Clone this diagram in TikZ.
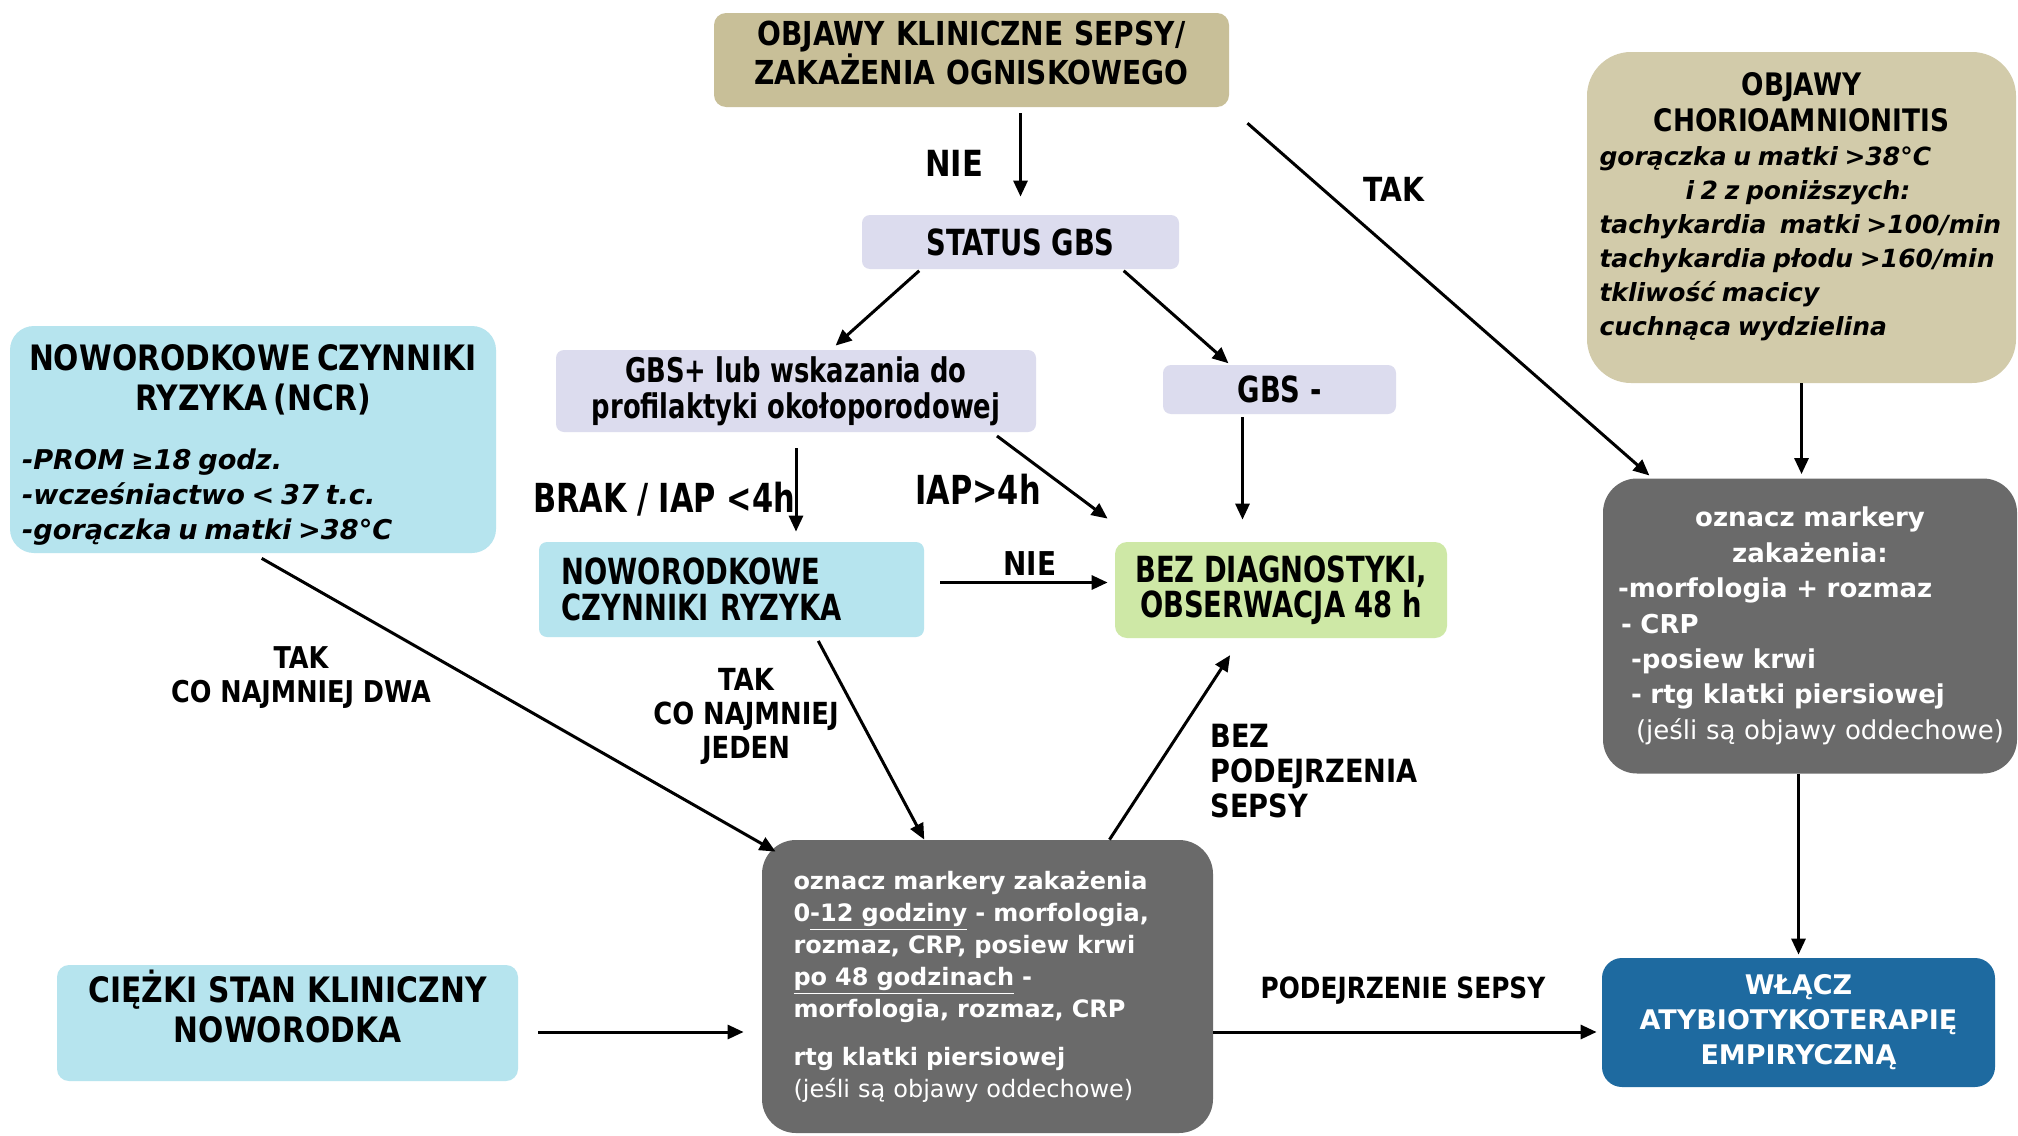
\documentclass[tikz,border=0pt]{standalone}
\usepackage{fontspec}
\setmainfont{DejaVu Sans}
\newfontfamily\tah{DejaVu Sans}[FakeStretch=0.85]
\newfontfamily\tahc{DejaVu Sans}[FakeStretch=0.76]
\usetikzlibrary{arrows.meta,calc}
\definecolor{tanA}{RGB}{200,191,152}
\definecolor{tanB}{RGB}{210,203,170}
\definecolor{lav}{RGB}{220,220,238}
\definecolor{cyanL}{RGB}{182,228,238}
\definecolor{greenL}{RGB}{206,232,166}
\definecolor{greyD}{RGB}{106,106,106}
\definecolor{blueD}{RGB}{30,106,160}
\begin{document}
\begin{tikzpicture}[x=0.5pt,y=-0.5pt,
  box/.style={inner sep=0pt, align=center, text=black},
  conn/.style={-{Triangle[length=8pt,width=7pt]}, line width=1.5pt, black},
  lab/.style={inner sep=0pt, align=center, font=\bfseries\tah\fontsize{#1}{17}\selectfont},
  lab/.default=16]
\fill[white] (0,0) rectangle (2018,1135);
\useasboundingbox (0,0) rectangle (2018,1135);

% boxes
\node[box, fill=tanA, rounded corners=6pt, minimum width=257.5pt, minimum height=47pt,
  text width=250pt, font=\bfseries\tah\fontsize{16.5}{17.5}\selectfont] (title) at (971.5,60)
  {OBJAWY KLINICZNE SEPSY/\\ZAKAŻENIA OGNISKOWEGO\par\vspace{7pt}};
\node[box, fill=lav, rounded corners=4pt, minimum width=158.5pt, minimum height=27pt,
  font=\bfseries\tahc\fontsize{18}{20}\selectfont] (status) at (1020.5,242) {STATUS GBS};
\node[box, fill=lav, rounded corners=4pt, minimum width=240pt, minimum height=41pt,
  font=\bfseries\tahc\fontsize{17}{18}\selectfont] (gbsp) at (796,391)
  {GBS+ lub wskazania do\\profilaktyki okołoporodowej};
\node[box, fill=lav, rounded corners=4pt, minimum width=116.5pt, minimum height=24.5pt,
  font=\bfseries\tahc\fontsize{18}{20}\selectfont] (gbsm) at (1279.5,389.5) {GBS -};
\node[box, fill=cyanL, rounded corners=12pt, minimum width=243pt, minimum height=113.5pt,
  text width=231pt, align=left, font=\bfseries] (ncr) at (253,439.5)
  {{\centering\tah\fontsize{17.5}{20}\selectfont NOWORODKOWE CZYNNIKI\\RYZYKA (NCR)\par}
   \vspace{12pt}
   {\itshape\fontsize{13.6}{17.5}\selectfont -PROM ≥18 godz.\\-wcześniactwo < 37 t.c.\\-gorączka u matki >38°C\par}\vspace{-5pt}};
\node[box, fill=cyanL, rounded corners=4pt, minimum width=192.5pt, minimum height=47.5pt,
  text width=170pt, align=left, font=\bfseries\tahc\fontsize{18}{18}\selectfont] (nrisk) at (731.5,589.5)
  {NOWORODKOWE\\CZYNNIKI RYZYKA};
\node[box, fill=greenL, rounded corners=6pt, minimum width=166pt, minimum height=48pt,
  font=\bfseries\tahc\fontsize{18}{17.5}\selectfont] (bez) at (1281,590)
  {BEZ DIAGNOSTYKI,\\OBSERWACJA 48 h};
\node[box, fill=tanB, rounded corners=22pt, minimum width=214.5pt, minimum height=165.5pt,
  text width=202pt, align=left, font=\bfseries] (chorio) at (1801.5,217.5)
  {{\centering\tah\fontsize{15.5}{18}\selectfont OBJAWY\\CHORIOAMNIONITIS\par}
   {\itshape\fontsize{12.5}{17}\selectfont gorączka u matki >38°C\\
   \hspace*{43pt}i 2 z poniższych:\\
   \mbox{tachykardia\ \ matki >100/min}\\
   \mbox{tachykardia płodu >160/min}\\
   tkliwość macicy\\
   cuchnąca wydzielina\par}\vspace{11pt}};
\node[box, fill=greyD, rounded corners=17pt, minimum width=207pt, minimum height=147.5pt,
  text width=198pt, align=left, text=white, font=\bfseries\fontsize{13}{17.7}\selectfont] (rgrey) at (1810,626)
  {{\centering oznacz markery\\zakażenia:\par}
   \hspace*{3pt}-morfologia + rozmaz\\
   \hspace*{4.5pt}- CRP\\
   \hspace*{9.5pt}-posiew krwi\\
   \hspace*{9.5pt}- rtg klatki piersiowej\\
   \hspace*{12pt}\mbox{\mdseries (jeśli są objawy oddechowe)}};
\node[box, fill=greyD, rounded corners=17pt, minimum width=225.5pt, minimum height=146.5pt,
  text width=200pt, align=left, text=white, font=\bfseries\fontsize{12}{16}\selectfont] (cgrey) at (987.5,986.5)
  {\hspace*{3pt}oznacz markery zakażenia\\
   \hspace*{3pt}0\underline{-12 godziny} - morfologia,\\
   \hspace*{3pt}rozmaz, CRP, posiew krwi\\
   \hspace*{3pt}\underline{po 48 godzinach} -\\
   \hspace*{3pt}morfologia, rozmaz, CRP\\[8pt]
   \hspace*{3pt}rtg klatki piersiowej\\
   \hspace*{3pt}{\mdseries (jeśli są objawy oddechowe)}};
\node[box, fill=cyanL, rounded corners=6pt, minimum width=230.5pt, minimum height=58pt,
  text width=225pt, font=\bfseries\tah\fontsize{17.5}{20}\selectfont] (ciezki) at (287.5,1023)
  {CIĘŻKI STAN KLINICZNY\\NOWORODKA\par\vspace{17pt}};
\node[box, fill=blueD, rounded corners=10pt, minimum width=196.5pt, minimum height=64.5pt,
  text=white, font=\bfseries\fontsize{13.5}{17.5}\selectfont] (wlacz) at (1798.5,1022.5)
  {WŁĄCZ\\ATYBIOTYKOTERAPIĘ\\EMPIRYCZNĄ};

% helper coordinates
\coordinate (gm) at ($(gbsm.south)+(-37,0)$);
\coordinate (nn) at ($(nrisk.east)+(0,-7)$);
\coordinate (cz) at ($(ciezki.east)+(0,9)$);
\coordinate (wz) at ($(wlacz.west)+(0,9.5)$);

% connectors
\draw[conn, shorten <=3pt, shorten >=9pt] (title.south -| status.north) -- (status.north);
\draw[conn, shorten <=1pt, shorten >=3pt] ($(status.south west)!0.186!(status.south east)$) -- ($(gbsp.north west)!0.573!(gbsp.north east)$);
\draw[conn, shorten <=1pt, shorten >=1pt] ($(status.south west)!0.82!(status.south east)$) -- ($(gbsm.north west)!0.288!(gbsm.north east)$);
\draw[conn, shorten <=12pt, shorten >=2pt] (title.south east) -- ($(rgrey.north west)!0.12!(rgrey.north east)$);
\draw[conn, shorten >=2pt] (chorio.south) -- (chorio.south |- rgrey.north);
\draw[conn, shorten <=8pt, shorten >=5pt] (gbsp.south) -- (gbsp.south |- nrisk.north);
\draw[conn, shorten <=3pt] ($(gbsp.south west)!0.908!(gbsp.south east)$) -- ($(bez.north west)+(-7,-23)$);
\draw[conn, shorten <=1.5pt, shorten >=11pt] (gm) -- (gm |- bez.north);
\draw[conn, shorten <=8pt, shorten >=3.5pt] (nn) -- (nn -| bez.west);
\draw[conn, shorten <=5pt] (ncr.south) -- ($(cgrey.north west)+(14,12)$);
\draw[conn, shorten <=2pt] ($(nrisk.south west)!0.72!(nrisk.south east)$) -- ($(cgrey.north west)!0.36!(cgrey.north east)$);
\draw[conn, shorten >=10pt] ($(cgrey.north west)!0.77!(cgrey.north east)$) -- ($(bez.south west)!0.38!(bez.south east)$);
\draw[conn, shorten <=10pt, shorten >=9pt] (cz) -- (cz -| cgrey.west);
\draw[conn, shorten >=2.5pt] (wz -| cgrey.east) -- (wz);
\draw[conn, shorten >=1.5pt] (wlacz.north |- rgrey.south) -- (wlacz.north);

% labels
\node[lab=18] (l1) at (954,163) {NIE};
\node[lab=16.6] (l2) at (1394,189) {TAK};
\node[inner sep=0pt, font=\bfseries\tahc\fontsize{20}{20}\selectfont] (l3) at (664,499) {BRAK / IAP <4h};
\node[inner sep=0pt, font=\bfseries\tahc\fontsize{20}{20}\selectfont] (l4) at (978,489) {IAP>4h};
\node[lab=16.4] (l5) at (1030,564) {NIE};
\node[lab=15] (l6) at (301,678) {TAK\\CO NAJMNIEJ DWA};
\node[lab=15.2] (l7) at (746,716) {TAK\\CO NAJMNIEJ\\JEDEN};
\node[inner sep=0pt, align=left, anchor=west, font=\bfseries\tah\fontsize{16}{17.7}\selectfont] (l8) at (1210,771) {BEZ\\PODEJRZENIA\\SEPSY};
\node[lab=14.6] (l9) at (1403,991) {PODEJRZENIE SEPSY};
\end{tikzpicture}
\end{document}
